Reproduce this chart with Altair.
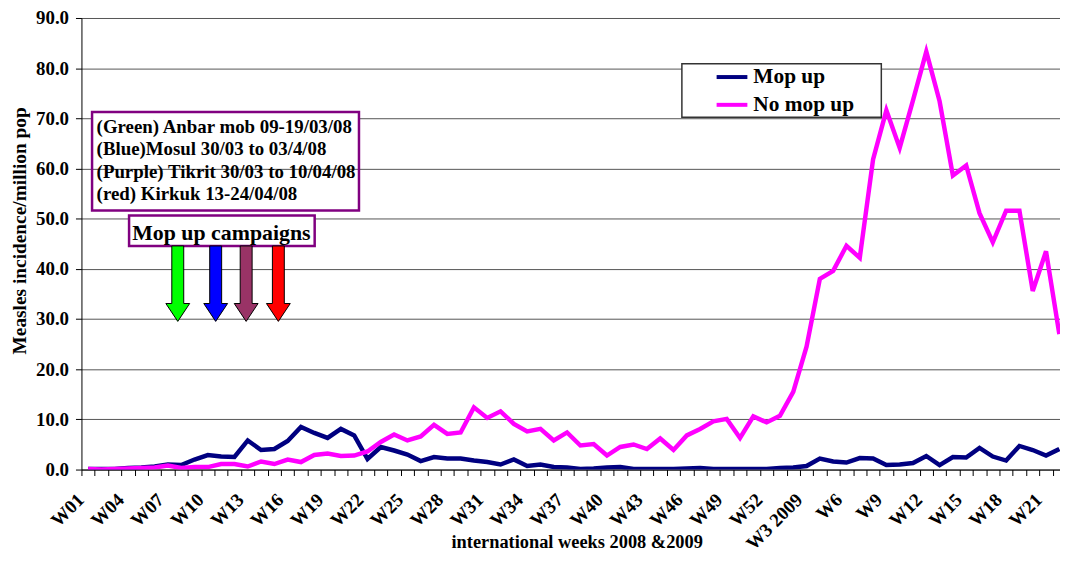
import altair as alt
import pandas as pd

# ---------------- data ----------------
weeks = [f"W{n:02d}" for n in range(1, 53)] + ["W1", "W2", "W3 2009"] + [f"W{n}" for n in range(4, 23)]

mop_up = [0.1, 0.1, 0.1, 0.3, 0.4, 0.6, 1.0, 0.9, 2.0, 2.9,
          2.6, 2.5, 5.8, 3.9, 4.1, 5.7, 8.5, 7.3, 6.3, 8.1,
          6.8, 2.1, 4.5, 3.8, 3.0, 1.7, 2.5, 2.2, 2.2, 1.8,
          1.5, 1.0, 2.0, 0.7, 1.0, 0.5, 0.4, 0.1, 0.2, 0.4,
          0.5, 0.1, 0.1, 0.1, 0.1, 0.2, 0.3, 0.1, 0.1, 0.1,
          0.1, 0.1, 0.3, 0.4, 0.7, 2.2, 1.6, 1.4, 2.3, 2.2,
          0.9, 1.0, 1.3, 2.7, 0.9, 2.5, 2.4, 4.3, 2.6, 1.8,
          4.7, 3.9, 2.8, 4.1]

no_mop_up = [0.1, 0.0, 0.1, 0.2, 0.3, 0.4, 0.8, 0.3, 0.5, 0.5,
             1.1, 1.1, 0.6, 1.6, 1.1, 2.0, 1.5, 2.9, 3.2, 2.7,
             2.8, 3.6, 5.5, 7.0, 5.8, 6.6, 8.9, 7.1, 7.4, 12.4,
             10.3, 11.6, 9.1, 7.6, 8.1, 5.8, 7.4, 4.8, 5.1, 2.8,
             4.5, 5.0, 4.1, 6.2, 3.9, 6.8, 8.1, 9.6, 10.1, 6.3,
             10.6, 9.4, 10.7, 15.5, 24.5, 38.0, 39.6, 44.6, 42.2, 61.8,
             71.6, 64.1, 73.6, 83.3, 73.4, 58.6, 60.6, 51.1, 45.3, 51.6,
             51.6, 35.6, 43.5, 27.0]

series_names = ["Mop up", "No mop up"]
series_colors = ["#000080", "#FF00FF"]

note_lines = ["(Green) Anbar mob 09-19/03/08",
              "(Blue)Mosul 30/03 to 03/4/08",
              "(Purple) Tikrit 30/03 to 10/04/08",
              "(red) Kirkuk 13-24/04/08"]
note_y = [68.3, 63.8, 59.3, 54.9]
note_x = [0.64] * 4

campaign_label = ["Mop up campaigns"]
campaign_x = [10.02]
campaign_y = [47.13]

arrow_x = [6.74, 9.59, 11.88, 14.3]
arrow_y = [37.05, 37.05, 37.05, 37.05]
arrow_colors = ["#00FF00", "#0000FF", "#993366", "#FF0000"]

# boxes: annotation, white top strip of annotation, campaigns, legend
box_x0 = [0.298, 0.298, 3.08, 44.63]
box_x1 = [20.36, 20.36, 17.03, 59.62]
box_y0 = [51.62, 67.3, 44.56, 70.21]
box_y1 = [71.26, 71.26, 50.63, 80.89]
box_fill = ["transparent", "white", "white", "white"]
box_stroke = ["#800080", "transparent", "#800080", "#333333"]
box_sw = [2.5, 0, 2.5, 1.5]
box_order = [1, 0, 2, 3]

y_ticks = [0, 10, 20, 30, 40, 50, 60, 70, 80, 90]

# ---------------- tables ----------------
n = len(weeks)
df = pd.DataFrame({
    "idx": list(range(n)) * 2,
    "week": weeks * 2,
    "series": [series_names[0]] * n + [series_names[1]] * n,
    "value": mop_up + no_mop_up,
})
notes = pd.DataFrame({"x": note_x, "y": note_y, "text": note_lines})
camp = pd.DataFrame({"x": campaign_x, "y": campaign_y, "text": campaign_label})
arrows = pd.DataFrame({"x": arrow_x, "y": arrow_y, "c": arrow_colors})
boxes = pd.DataFrame({"x0": box_x0, "x1": box_x1, "y0": box_y0, "y1": box_y1,
                      "fill": box_fill, "stroke": box_stroke, "sw": box_sw, "o": box_order})

FONT = "Liberation Serif"
W, H = 986, 455
x_min, x_max = -0.5, 73.05
step = W / (x_max - x_min)

label_js = "[" + ",".join(f"'{w}'" for w in weeks) + "]"
label_expr = f"datum.value % 3 == 0 ? {label_js}[datum.value] : ''"

xscale = alt.Scale(domain=[x_min, x_max], nice=False, zero=False)
yscale = alt.Scale(domain=[0, 90], nice=False)

x_axis = alt.Axis(
    values=list(range(n)), labelExpr=label_expr, grid=False,
    tickOffset=-step / 2, labelOffset=-1, labelAngle=-45, labelAlign="right",
    labelBaseline="middle", labelPadding=21, tickSize=6, tickColor="black",
    domainColor="black", labelOverlap=False, labelFlush=False, labelBound=False,
    labelFont=FONT, labelFontSize=19, labelFontWeight="bold", labelColor="black",
    title="international weeks 2008 &2009", titleFont=FONT, titleFontSize=18.5,
    titleFontWeight="bold", titleColor="black", titleX=499, titleY=73,
    titleBaseline="middle", titleAlign="center",
)
y_axis = alt.Axis(
    values=y_ticks, format=".1f", grid=True, gridColor="#555555", gridWidth=1,
    tickSize=6, tickColor="black", domainColor="black", labelPadding=7,
    labelFont=FONT, labelFontSize=19, labelFontWeight="bold", labelColor="black",
    title="Measles incidence/million pop", titleFont=FONT, titleFontSize=19.5,
    titleFontWeight="bold", titleColor="black", titleX=-62, titleY=214,
    titleAngle=-90, titleBaseline="middle", titleAlign="center",
)

rects = alt.Chart(boxes).mark_rect().encode(
    x=alt.X("x0:Q", scale=xscale, axis=x_axis),
    x2="x1:Q",
    y=alt.Y("y0:Q", scale=yscale, axis=y_axis),
    y2="y1:Q",
    fill=alt.Fill("fill:N", scale=None),
    stroke=alt.Stroke("stroke:N", scale=None),
    strokeWidth=alt.StrokeWidth("sw:Q", scale=None),
    order="o:Q",
)

lines = alt.Chart(df).mark_line(strokeWidth=4.5, clip=True).encode(
    x=alt.X("idx:Q", scale=xscale, axis=x_axis),
    y=alt.Y("value:Q", scale=yscale, axis=y_axis),
    color=alt.Color(
        "series:N",
        scale=alt.Scale(domain=series_names, range=series_colors),
        legend=alt.Legend(
            orient="none", legendX=638, legendY=42, title=None,
            symbolType="stroke", symbolSize=961, symbolStrokeWidth=4,
            labelFont=FONT, labelFontSize=21.5, labelFontWeight="bold",
            labelColor="black", padding=0, rowPadding=-11, labelOffset=4,
        ),
    ),
)

note_text = alt.Chart(notes).mark_text(
    align="left", baseline="middle", font=FONT, fontSize=19, fontWeight="bold", color="black"
).encode(x=alt.X("x:Q", scale=xscale, axis=x_axis), y=alt.Y("y:Q", scale=yscale, axis=y_axis), text="text:N")

camp_text = alt.Chart(camp).mark_text(
    align="center", baseline="middle", font=FONT, fontSize=22, fontWeight="bold", color="black"
).encode(x=alt.X("x:Q", scale=xscale, axis=x_axis), y=alt.Y("y:Q", scale=yscale, axis=y_axis), text="text:N")

arrow_path = ("M -0.158 -1 L 0.158 -1 L 0.158 0.526 L 0.316 0.526 L 0 1 "
              "L -0.316 0.526 L -0.158 0.526 Z")
arrow_marks = alt.Chart(arrows).mark_point(
    shape=arrow_path, size=5776, filled=True, stroke="black", strokeWidth=1, opacity=1
).encode(
    x=alt.X("x:Q", scale=xscale, axis=x_axis),
    y=alt.Y("y:Q", scale=yscale, axis=y_axis),
    fill=alt.Fill("c:N", scale=None),
)

chart = alt.layer(rects, lines, note_text, camp_text, arrow_marks).properties(
    width=W, height=H,
    autosize=alt.AutoSizeParams(type="none"),
    padding={"left": 74, "top": 8, "right": 0, "bottom": 82},
    background="white",
).configure_view(stroke=None).configure_axisX(labelOverlap=False, labelFlush=False)

chart.save("out.html", embed_options={"renderer": "svg", "actions": False})
